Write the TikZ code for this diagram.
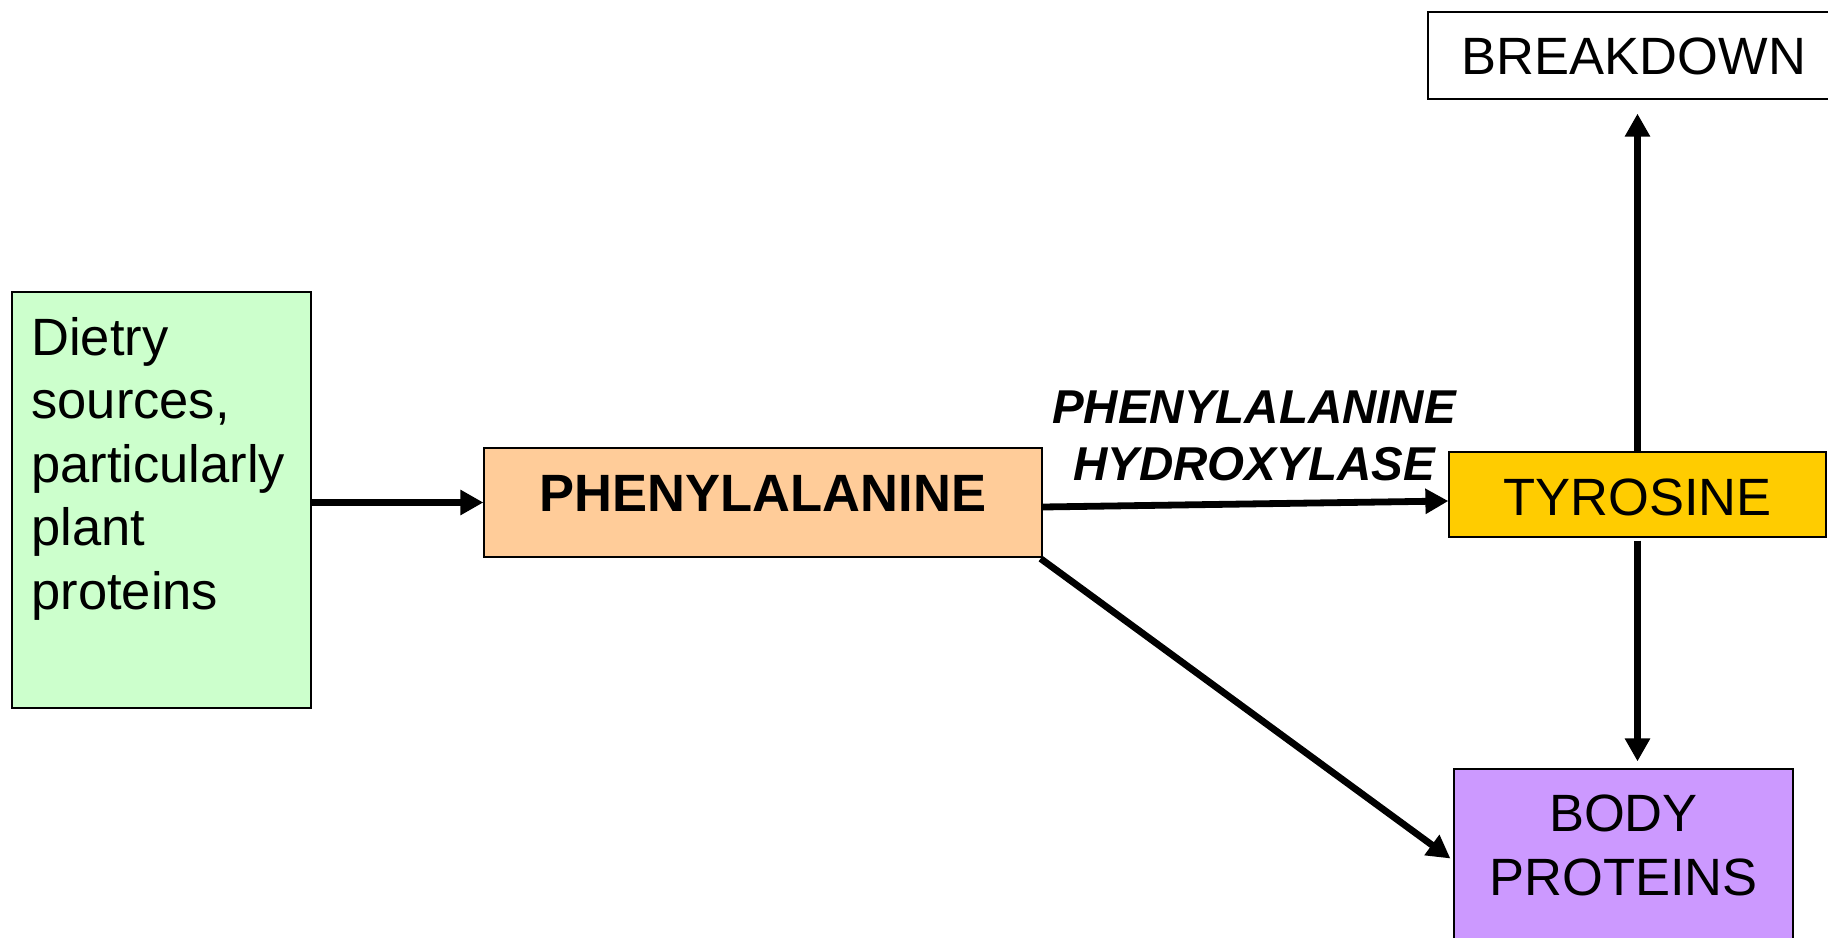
\documentclass[tikz,border=0pt]{standalone}
\usepackage{fontspec}
\setmainfont{Liberation Sans}
\usetikzlibrary{arrows.meta,calc}
\definecolor{cgreen}{HTML}{CCFFCC}
\definecolor{corange}{HTML}{FFCC99}
\definecolor{cyellow}{HTML}{FFCC00}
\definecolor{cpurple}{HTML}{CC99FF}
\tikzset{
  box/.style={draw=black, line width=0.6pt, inner sep=0pt, rectangle},
  maintext/.style={font=\fontsize{26.25pt}{31.75pt}\selectfont, inner sep=0pt},
  labeltext/.style={font=\fontsize{23.75pt}{28.5pt}\selectfont\bfseries\itshape, inner sep=0pt, align=center},
  conn/.style={line width=3.4pt, -{Triangle[length=11.5pt,width=12pt]}}
}
\begin{document}
\begin{tikzpicture}[x=0.5pt,y=-0.5pt]
\clip (0,0) rectangle (1828,938);
\fill[white] (0,0) rectangle (1828,938);
% boxes
\node[box, fill=cgreen, minimum width=149.5pt, minimum height=208pt] (green) at (161.5,500) {};
\node[box, fill=corange, minimum width=279pt, minimum height=54.5pt] (phe) at (763,502.5) {};
\node[box, fill=cyellow, minimum width=188.5pt, minimum height=42.5pt] (tyr) at (1637.5,494.5) {};
\node[box, fill=white, minimum width=211pt, minimum height=43.5pt] (brk) at (1639,55.5) {};
\node[box, fill=cpurple, minimum width=169.5pt, minimum height=95.5pt] (body) at (1623.5,864.5) {};
% texts (base anchor of a multi-line node = last line)
\node[maintext, align=left, anchor=base west] (greentext) at (31,609) {Dietry\\sources,\\particularly\\plant\\proteins};
\node[maintext, anchor=base, font=\fontsize{26.25pt}{32pt}\selectfont\bfseries] (phetext) at (763,511) {PHENYLALANINE};
\node[maintext, anchor=base] (tyrtext) at (1637.5,515) {TYROSINE};
\node[maintext, anchor=base] (brktext) at (1634,74) {BREAKDOWN};
\node[maintext, align=center, anchor=base, font=\fontsize{26.25pt}{32pt}\selectfont] (bodytext) at (1623.5,895) {BODY\\PROTEINS};
\node[labeltext, anchor=base] (enzyme) at (1254,480) {PHENYLALANINE\\HYDROXYLASE};
% connectors
\draw[conn] (green.east |- phe.west) -- (phe.west);
\draw[conn] ($(phe.east)+(0,4.5)$) -- ($(tyr.west)+(0,6.5)$);
\draw[conn] ($(phe.south east)+(-2,1)$) -- ($(body.west)+(-3,-6)$);
\draw[conn] (tyr.north) -- ($(tyr.north |- brk.south)+(0,14)$);
\draw[conn] ($(tyr.south)+(0,3)$) -- ($(tyr.south |- body.north)+(0,-7)$);
\end{tikzpicture}
\end{document}
